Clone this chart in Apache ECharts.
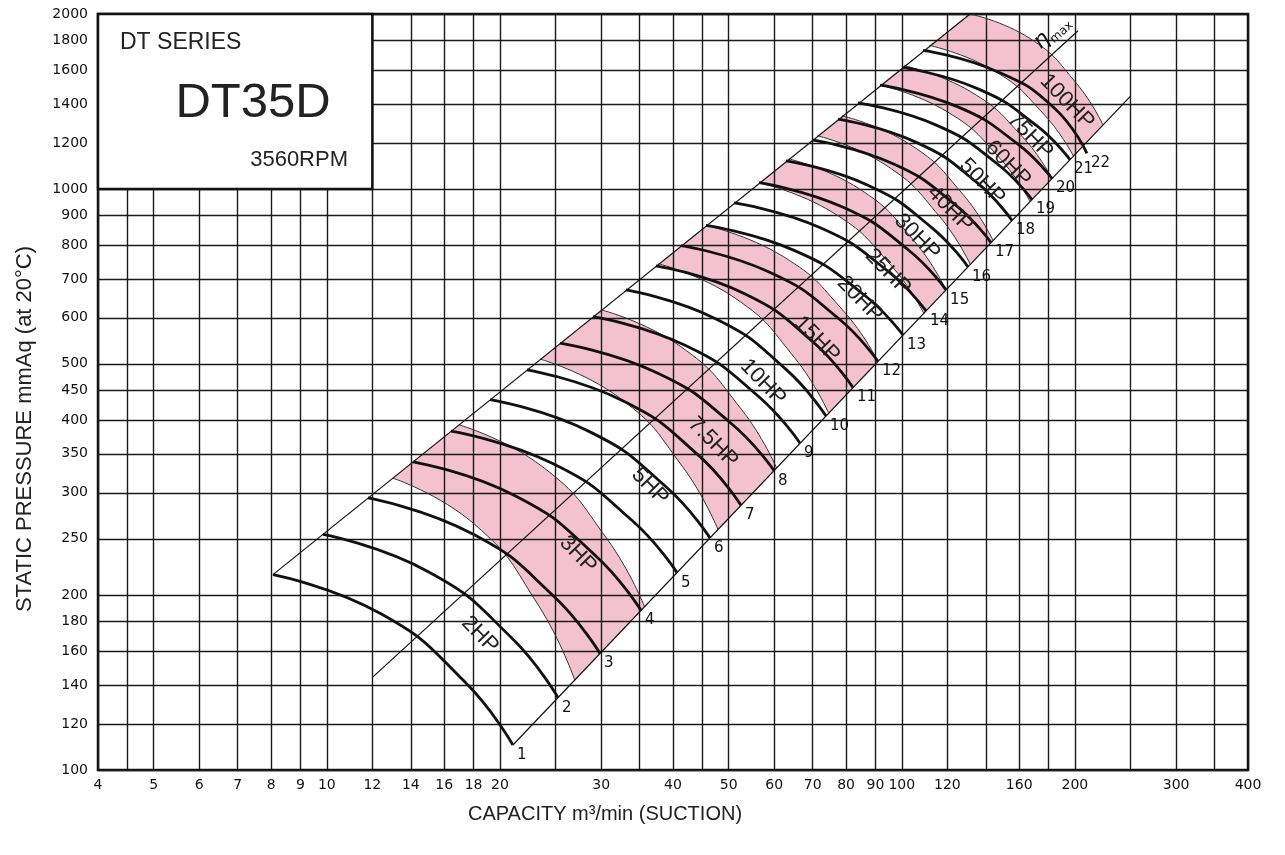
<!DOCTYPE html>
<html><head><meta charset="utf-8">
<script src="https://cdn.jsdelivr.net/npm/echarts@6/dist/echarts.min.js"></script>
<style>html,body{margin:0;padding:0;background:#fff}#c{width:1285px;height:855px}</style>
</head><body><div id="c"></div>
<script>
// ---------- axes (tick / grid values) ----------
const xGridValues = [4,4.5,5,6,7,8,9,10,12,14,16,18,20,25,30,35,40,45,50,60,70,80,90,100,120,140,160,180,200,250,300,350,400];
const xLabelValues = [4,5,6,7,8,9,10,12,14,16,18,20,30,40,50,60,70,80,90,100,120,160,200,300,400];
const yGridValues = [100,120,140,160,180,200,250,300,350,400,450,500,600,700,800,900,1000,1200,1400,1600,1800,2000];
const yLabelValues = [100,120,140,160,180,200,250,300,350,400,450,500,600,700,800,900,1000,1200,1400,1600,1800,2000];

// ---------- fan curves (capacity m3/min, static pressure mmAq) ----------
const curve01 = [[8.06,216.9],[12.42,185.7],[17.39,141.7],[21.07,110.4]];
const curve02 = [[9.85,254.4],[15.04,219.2],[20.91,169.2],[25.24,133.2]];
const curve03 = [[11.79,293.9],[17.91,255.0],[24.79,199.3],[29.86,158.7]];
const curve04 = [[14.12,339.2],[21.29,296.3],[29.31,234.0],[35.19,188.2]];
const curve05 = [[16.44,383.1],[24.71,336.8],[33.92,269.0],[40.65,218.6]];
const curve06 = [[19.22,433.9],[28.57,382.6],[38.89,307.3],[46.38,250.9]];
const curve07 = [[22.29,488.4],[32.78,431.6],[44.26,348.2],[52.52,285.4]];
const curve08 = [[25.44,542.9],[37.41,483.3],[50.51,394.8],[59.95,327.5]];
const curve09 = [[29.04,602.9],[42.16,537.1],[56.35,439.4],[66.52,364.9]];
const curve10 = [[33.14,670.2],[47.52,597.4],[62.89,489.1],[73.82,406.6]];
const curve11 = [[37.36,737.5],[53.29,660.1],[70.24,544.1],[82.24,455.1]];
const curve12 = [[41.30,798.7],[58.91,718.8],[77.63,598.4],[90.90,505.0]];
const curve13 = [[45.65,865.4],[65.12,783.1],[85.82,658.1],[100.5,560.2]];
const curve14 = [[51.07,946.2],[72.18,857.4],[94.46,722.5],[110.2,616.6]];
const curve15 = [[56.45,1024.9],[79.06,929.6],[102.8,784.3],[119.4,670.2]];
const curve16 = [[62.89,1117.6],[87.29,1014.8],[112.7,858.0],[130.3,734.5]];
const curve17 = [[69.79,1214.2],[96.35,1105.9],[123.8,939.7],[142.9,808.4]];
const curve18 = [[77.46,1319.2],[106.0,1202.6],[135.3,1024.0],[155.5,882.4]];
const curve19 = [[83.90,1406.3],[114.8,1287.6],[146.5,1104.9],[168.4,958.7]];
const curve20 = [[91.64,1508.7],[124.9,1385.4],[159.0,1195.1],[182.5,1042.1]];
const curve21 = [[100.1,1618.5],[135.4,1487.9],[171.4,1285.8],[196.1,1123.3]];
const curve22 = [[108.9,1731.0],[146.3,1593.0],[184.1,1378.2],[209.9,1151.3]];
const pointNumbers = ['1','2','3','4','5','6','7','8','9','10','11','12','13','14','15','16','17','18','19','20','21','22'];

// ---------- motor power boundary arcs ----------
const arc2to3HP   = [[13.02,318.0],[18.08,264.6],[23.33,192.1],[26.99,142.8]];
const arc3to5HP   = [[16.97,392.7],[23.71,332.7],[30.76,249.3],[35.70,191.0]];
const arc5to7HP   = [[23.50,509.5],[32.38,436.1],[41.54,332.9],[47.90,259.3]];
const arc7to10HP  = [[30.02,619.3],[41.17,536.2],[52.63,417.3],[60.57,331.0]];
const arc10to15HP = [[37.75,743.3],[51.29,648.8],[65.12,511.9],[74.62,411.3]];
const arc15to20HP = [[45.65,865.4],[62.24,764.6],[79.21,616.3],[90.90,505.0]];
const arc20to25HP = [[56.45,1024.9],[75.95,910.0],[95.66,739.8],[109.2,610.8]];
const arc25to30HP = [[63.54,1126.9],[84.39,1000],[105.2,812.3],[119.4,670.2]];
const arc30to40HP = [[71.26,1234.8],[93.90,1098.2],[116.4,895.6],[131.5,741.7]];
const arc40to50HP = [[78.70,1336.2],[103.3,1192.9],[127.7,979.0],[144.1,815.5]];
const arc50to60HP = [[91.64,1508.7],[120.1,1356.7],[148.2,1127.9],[167.1,950.8]];
const arc60to75HP = [[100.9,1629.8],[131.7,1470.3],[162.1,1229.7],[182.5,1042.1]];
const arc75to100HP= [[111.6,1766.4],[144.7,1597.0],[177.1,1340.0],[198.8,1139.4]];
const arc100topHP = [[131.4,2000],[167.0,1815.6],[201.2,1519.5],[223.8,1289.1]];

// ---------- HP zone labels ----------
const hpLabelText = ['2HP','3HP','5HP','7.5HP','10HP','15HP','20HP','25HP','30HP','40HP','50HP','60HP','75HP','100HP'];
const hpLabelQ = [18.47,27.34,36.48,46.95,57.35,71.2,84.58,94.6,106.3,121.3,137.9,153.0,167.1,193.8];
const hpLabelP = [170.9,234.8,307.5,366.3,464.7,551.3,646.1,719.3,826.4,923.6,1028.3,1104.4,1234.3,1412.5];

// ---------- straight construction lines ----------
const startLine = [[8.06,216.9],[131.4,2000]];
const endLine = [[21.07,110.4],[249.4,1442]];
const etaMaxLine = [[12.03,144.6],[202.5,1872]];
const etaLabelPos = [175.3,1800];

// ---------- title box ----------
const boxQ = [4,12];
const boxP = [1000,2000];
const titleTexts = ['DT SERIES','DT35D','3560RPM'];

const fanCurves = [curve01,curve02,curve03,curve04,curve05,curve06,curve07,curve08,curve09,curve10,curve11,curve12,curve13,curve14,curve15,curve16,curve17,curve18,curve19,curve20,curve21,curve22];
const hpArcs = [arc2to3HP,arc3to5HP,arc5to7HP,arc7to10HP,arc10to15HP,arc15to20HP,arc20to25HP,arc25to30HP,arc30to40HP,arc40to50HP,arc50to60HP,arc60to75HP,arc75to100HP,arc100topHP];
const pinkZones = [[arc2to3HP,arc3to5HP],[arc5to7HP,arc7to10HP],[arc10to15HP,arc15to20HP],[arc20to25HP,arc25to30HP],[arc30to40HP,arc40to50HP],[arc50to60HP,arc60to75HP],[arc75to100HP,arc100topHP]];

// ---------- drawing helpers ----------
const SMOOTH = 0.5;
function segs(pts){
  const n = pts.length, cin = [], cout = [];
  for (let i=0;i<n;i++){
    if (i===0||i===n-1){ cin[i]=pts[i]; cout[i]=pts[i]; continue; }
    const p=pts[i], a=pts[i-1], b=pts[i+1];
    const vx=(b[0]-a[0])*SMOOTH, vy=(b[1]-a[1])*SMOOTH;
    let d0=Math.hypot(p[0]-a[0],p[1]-a[1]), d1=Math.hypot(b[0]-p[0],b[1]-p[1]);
    const s=d0+d1; if(s){d0/=s; d1/=s;}
    cin[i]=[p[0]-vx*d0,p[1]-vy*d0];
    cout[i]=[p[0]+vx*d1,p[1]+vy*d1];
  }
  let d='';
  for (let i=0;i<n-1;i++){
    d+=' C'+cout[i][0]+','+cout[i][1]+' '+cin[i+1][0]+','+cin[i+1][1]+' '+pts[i+1][0]+','+pts[i+1][1];
  }
  return d;
}
function openPath(pts){ return 'M'+pts[0][0]+','+pts[0][1]+segs(pts); }
function zonePath(lo, up){
  const u = up.slice().reverse();
  return 'M'+lo[0][0]+','+lo[0][1]+segs(lo)+' L'+u[0][0]+','+u[0][1]+segs(u)+' Z';
}
const FONT = '"Liberation Sans", Arial, sans-serif';
const NUMFONT = '"DejaVu Sans", sans-serif';

const chart = echarts.init(document.getElementById('c'), null, {renderer:'canvas'});
function axisCommon(gridVals, labelVals){
  return {
    type:'log', logBase:10,
    axisLine:{show:false},
    axisTick:{show:false, customValues:gridVals},
    axisLabel:{customValues:labelVals, color:'#111', fontFamily:'DejaVu Sans', fontSize:14,
      hideOverlap:false, showMinLabel:true, showMaxLabel:true,
      formatter:function(v){ return String(Math.round(+v*10)/10); }},
    splitLine:{show:true, lineStyle:{color:'#1a1a1a', width:1.4}}
  };
}
const xAxis = Object.assign(axisCommon(xGridValues, xLabelValues), {min:4, max:400});
xAxis.axisLabel.margin = 8;
const yAxis = Object.assign(axisCommon(yGridValues, yLabelValues), {min:100, max:2000});
yAxis.axisLabel.margin = 10;

const option = {
  backgroundColor:'#fff',
  animation:false,
  grid:{left:98, right:37, top:14, bottom:85, show:true, borderColor:'#111', borderWidth:2.5, backgroundColor:'transparent'},
  xAxis: xAxis,
  yAxis: yAxis,
  graphic:[
    {type:'text', x:605, y:814, silent:true,
      style:{text:'CAPACITY m³/min (SUCTION)', font:'20px '+FONT, fill:'#222', align:'center', verticalAlign:'middle', textAlign:'center', textVerticalAlign:'middle'}},
    {type:'text', x:25, y:429, rotation:Math.PI/2, silent:true,
      style:{text:'STATIC PRESSURE mmAq (at 20°C)', font:'22px '+FONT, fill:'#222', align:'center', verticalAlign:'middle', textAlign:'center', textVerticalAlign:'middle'}}
  ],
  series:[
    { // pink HP zones
      type:'custom', z:-1, silent:true, clip:true,
      data: pinkZones.map((z,i)=>[z[0][0][0], z[0][0][1], i]),
      renderItem:function(params, api){
        const z = pinkZones[api.value(2)];
        const lo = z[0].map(d=>api.coord(d)), up = z[1].map(d=>api.coord(d));
        return {type:'path', shape:{pathData: zonePath(lo, up)}, style:{fill:'#f4c2cf', stroke:null}};
      }
    },
    {type:'line', data:startLine, symbol:'none', silent:true, z:3, lineStyle:{color:'#111', width:1.2}},
    {type:'line', data:endLine, symbol:'none', silent:true, z:3, lineStyle:{color:'#111', width:1.2}},
    {type:'line', data:etaMaxLine, symbol:'none', silent:true, z:3, lineStyle:{color:'#111', width:1.2}},
    { // HP boundary arcs
      type:'custom', z:3, silent:true, clip:true,
      data: hpArcs.map((a,i)=>[a[0][0], a[0][1], i]),
      renderItem:function(params, api){
        const pts = hpArcs[api.value(2)].map(d=>api.coord(d));
        return {type:'path', shape:{pathData: openPath(pts)}, style:{fill:'none', stroke:'#333', lineWidth:1}};
      }
    },
    { // fan curves
      type:'custom', z:4, silent:true, clip:true,
      data: fanCurves.map((c,i)=>[c[0][0], c[0][1], i]),
      renderItem:function(params, api){
        const pts = fanCurves[api.value(2)].map(d=>api.coord(d));
        return {type:'path', shape:{pathData: openPath(pts)}, style:{fill:'none', stroke:'#111', lineWidth:2.8}};
      }
    },
    { // point numbers at curve ends
      type:'custom', z:5, silent:true,
      data: fanCurves.map((c,i)=>[c[c.length-1][0], c[c.length-1][1], i]),
      renderItem:function(params, api){
        const p = api.coord([api.value(0), api.value(1)]);
        return {type:'text', x:p[0]+4, y:p[1]+10,
          style:{text: pointNumbers[api.value(2)], font:'15px '+NUMFONT, fill:'#111', align:'left', verticalAlign:'middle'}};
      }
    },
    { // HP labels
      type:'custom', z:5, silent:true,
      data: hpLabelText.map((t,i)=>[hpLabelQ[i], hpLabelP[i], i]),
      renderItem:function(params, api){
        const p = api.coord([api.value(0), api.value(1)]);
        return {type:'text', x:p[0], y:p[1], rotation:-0.8,
          style:{text: hpLabelText[api.value(2)], font:'22px '+FONT, fill:'#222', align:'center', verticalAlign:'middle'}};
      }
    },
    { // eta max label
      type:'custom', z:5, silent:true,
      data:[[etaLabelPos[0], etaLabelPos[1], 0]],
      renderItem:function(params, api){
        const p = api.coord([api.value(0), api.value(1)]);
        return {type:'group', x:p[0], y:p[1], rotation:0.73, children:[
          {type:'text', x:0, y:0, style:{text:'η', font:'italic 22px "DejaVu Sans"', fill:'#111', align:'center', verticalAlign:'middle'}},
          {type:'text', x:7, y:7, style:{text:'max', font:'12px "DejaVu Sans"', fill:'#111', align:'left', verticalAlign:'middle'}}
        ]};
      }
    },
    { // title box
      type:'custom', z:10, silent:true,
      data:[[boxQ[0], boxP[1], 0]],
      renderItem:function(params, api){
        const tl = api.coord([boxQ[0], boxP[1]]), br = api.coord([boxQ[1], boxP[0]]);
        return {type:'group', children:[
          {type:'rect', shape:{x:tl[0], y:tl[1], width:br[0]-tl[0], height:br[1]-tl[1]}, style:{fill:'#fff', stroke:'#111', lineWidth:2.5}},
          {type:'text', x:tl[0]+22, y:tl[1]+28.5, style:{text:titleTexts[0], font:'23px '+FONT, fill:'#222', align:'left', verticalAlign:'middle'}},
          {type:'text', x:tl[0]+155, y:tl[1]+89, style:{text:titleTexts[1], font:'49px '+FONT, fill:'#222', align:'center', verticalAlign:'middle'}},
          {type:'text', x:tl[0]+250, y:tl[1]+145.5, style:{text:titleTexts[2], font:'22px '+FONT, fill:'#222', align:'right', verticalAlign:'middle'}}
        ]};
      }
    }
  ]
};
chart.setOption(option);
</script>
</body></html>
